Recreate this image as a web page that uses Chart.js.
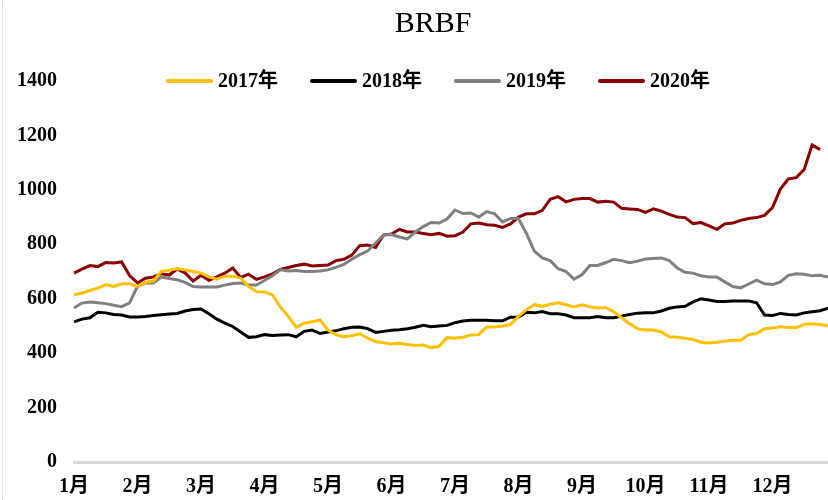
<!DOCTYPE html>
<html>
<head>
<meta charset="utf-8">
<script src="https://cdn.jsdelivr.net/npm/chart.js@4/dist/chart.umd.min.js"></script>
<style>
    html, body { margin: 0; padding: 0; background: #fff; }
    #wrap { position: relative; width: 828px; height: 500px; }
    #edge { position: absolute; left: 2px; top: 0; bottom: 0; border-left: 1px dotted #d0d0d0; }
</style>
</head>
<body>
<div id="wrap">
    <canvas id="brbf-chart" width="828" height="500"></canvas>
    <div id="edge"></div>
</div>
<script>
// Month tick labels, 8 samples per month
const MONTHS = ['1月', '2月', '3月', '4月', '5月', '6月', '7月', '8月', '9月', '10月', '11月', '12月'];
const PER_MONTH = 8;

// Series values
const Y2017 = [
    614, 621, 630, 639, 652, 645, 655, 655, 645, 660, 665, 700, 705, 710,
    706, 700, 694, 680, 672, 683, 683, 676, 645, 626, 625, 614, 570,
    535, 495, 510, 515, 522, 485, 468, 460, 464, 472, 455, 443, 438, 434,
    436, 432, 428, 430, 420, 425, 457, 455, 458, 467, 468, 496,
    496, 500, 505, 535, 560, 578, 572, 580, 585, 578, 570, 578, 570, 566,
    568, 552, 530, 508, 490, 485, 485, 478, 460, 458, 455, 450, 440,
    437, 440, 444, 447, 447, 468, 472, 490, 492, 497, 494, 494, 505, 508, 505, 500
];
const Y2018 = [
    515, 525, 530, 550, 548, 542, 540, 533, 533, 535, 538, 541, 544, 546,
    555, 560, 562, 545, 525, 510, 498, 478, 458, 460, 468, 465, 467,
    468, 460, 480, 485, 472, 478, 482, 490, 495, 496, 490, 476, 480, 484,
    486, 490, 495, 502, 497, 500, 502, 512, 518, 521, 521, 521,
    519, 519, 532, 533, 550, 548, 553, 545, 545, 540, 530, 530, 530, 535,
    530, 530, 536, 542, 547, 548, 548, 555, 565, 570, 572, 588, 600,
    595, 590, 590, 592, 592, 592, 585, 540, 538, 546, 542, 540, 548, 552, 556, 565
];
const Y2019 = [
    566, 584, 588, 585, 582, 576, 571, 585, 645, 658, 658, 680, 674, 670,
    660, 645, 643, 643, 643, 650, 656, 658, 650, 650, 667, 684, 706,
    702, 704, 700, 700, 702, 706, 715, 726, 745, 762, 775, 805, 834, 836,
    827, 820, 845, 865, 880, 878, 893, 926, 913, 915, 900, 920,
    912, 882, 895, 895, 840, 775, 750, 740, 710, 700, 672, 688, 722, 722,
    733, 745, 740, 732, 738, 746, 748, 750, 740, 713, 697, 694, 684,
    680, 680, 662, 645, 640, 654, 668, 655, 652, 662, 686, 692, 690, 684, 686, 680
];
const Y2020 = [
    694, 709, 722, 718, 733, 731, 735, 685, 658, 675, 680, 692, 687, 709,
    695, 665, 686, 668, 680, 694, 713, 678, 690, 671, 680, 691, 708,
    715, 722, 727, 720, 722, 724, 740, 745, 760, 795, 797, 788, 834, 838,
    855, 845, 845, 840, 835, 840, 830, 831, 845, 875, 878, 872,
    870, 862, 875, 900, 912, 912, 925, 965, 975, 956, 965, 968, 968, 955,
    958, 955, 932, 930, 928, 917, 930, 922, 910, 900, 898, 876, 880,
    868, 855, 875, 878, 888, 895, 898, 906, 935, 1003, 1040, 1045, 1075, 1165, 1148, null
];

const FONT = "'Liberation Serif', 'Noto Sans CJK SC', serif";

// One label per sample, month name at the first sample of each month
const labels = [];
MONTHS.forEach(m => {
    for (let i = 0; i < PER_MONTH; i++) labels.push(i === 0 ? m : '');
});

function series(label, data, color) {
    return {
        label: label,
        data: data,
        borderColor: color,
        backgroundColor: color,
        borderWidth: 3,
        pointRadius: 0,
        tension: 0,
        fill: false
    };
}

// Title and legend sit on top of the plot, drawn by hand
const headerPlugin = {
    id: 'header',
    afterDraw(chart) {
        const ctx = chart.ctx;
        ctx.save();
        ctx.fillStyle = '#000';
        ctx.textBaseline = 'middle';
        ctx.textAlign = 'center';
        ctx.font = '30px ' + FONT;
        ctx.fillText('BRBF', 433, 24);

        ctx.font = 'bold 20px ' + FONT;
        ctx.textAlign = 'left';
        const swatch = 47, gap = 5, spacing = 32;
        const items = chart.data.datasets.map(ds => ({
            ds: ds,
            w: swatch + gap + ctx.measureText(ds.label).width
        }));
        const total = items.reduce((a, it) => a + it.w, 0) + spacing * (items.length - 1);
        let x = 438 - total / 2;
        const y = 81;
        items.forEach(it => {
            ctx.strokeStyle = it.ds.borderColor;
            ctx.lineWidth = 4;
            ctx.lineCap = 'round';
            ctx.beginPath();
            ctx.moveTo(x + 2, y);
            ctx.lineTo(x + swatch - 2, y);
            ctx.stroke();
            ctx.fillText(it.ds.label, x + swatch + gap, y + 1);
            x += it.w + spacing;
        });
        ctx.restore();
    }
};

const ctx = document.getElementById('brbf-chart').getContext('2d');
new Chart(ctx, {
    type: 'line',
    data: {
        labels: labels,
        datasets: [
            series('2017年', Y2017, '#FFC000'),
            series('2018年', Y2018, '#000000'),
            series('2019年', Y2019, '#808080'),
            series('2020年', Y2020, '#8B0000')
        ]
    },
    options: {
        responsive: false,
        animation: false,
        layout: {
            padding: { top: 81, left: 0, right: 0, bottom: 1 }
        },
        plugins: {
            legend: { display: false },
            title: { display: false },
            tooltip: { enabled: false }
        },
        scales: {
            x: {
                grid: { display: false, drawTicks: true, tickLength: 13 },
                border: { display: true, color: '#d9d9d9', width: 3 },
                ticks: {
                    autoSkip: false,
                    maxRotation: 0,
                    minRotation: 0,
                    padding: 0,
                    color: '#000',
                    font: { family: FONT, size: 20, weight: 'bold' }
                }
            },
            y: {
                min: 0,
                max: 1400,
                grid: { display: false, drawTicks: false },
                border: { display: false },
                ticks: {
                    stepSize: 200,
                    padding: 17,
                    color: '#000',
                    font: { family: FONT, size: 20, weight: 'bold' },
                    callback: v => String(v)
                }
            }
        }
    },
    plugins: [headerPlugin]
});
</script>
</body>
</html>
